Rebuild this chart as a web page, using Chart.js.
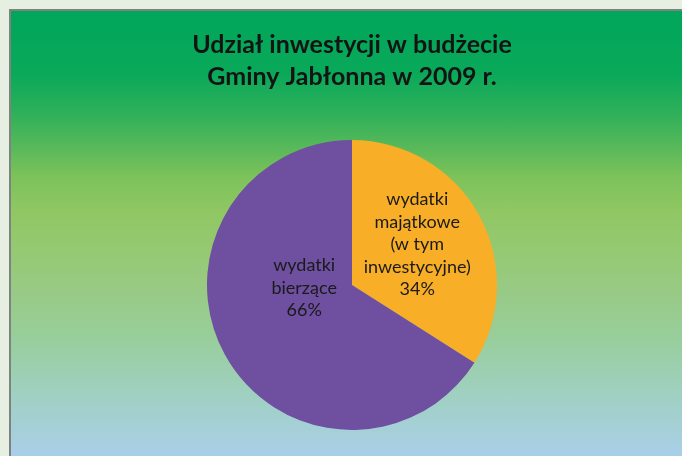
<!DOCTYPE html>
<html>
<head>
<meta charset="utf-8">
<script src="https://cdn.jsdelivr.net/npm/chart.js@4"></script>
<style>
    html, body { margin: 0; padding: 0; background: #e6efe2; }
    #frame {
        position: absolute; left: 9px; top: 9px; width: 673px; height: 447px;
        border-top: 2px solid #7f8380; border-left: 2px solid #7f8380;
        background: linear-gradient(to bottom, #00a65a 0%, #0aa95a 14%, #2fb05a 23%, #55b85a 30%,
            #7cc25a 37%, #90c763 45%, #96c973 54%, #98ca86 63%, #98ce9b 73%, #a0d0c2 86%, #aacfea 100%);
    }
    #wrap { position: absolute; left: 0; top: 0; width: 682px; height: 456px; }
</style>
</head>
<body>
<div id="frame"></div>
<div id="wrap"><canvas id="budgetChart"></canvas></div>
<script>
var sliceLabels = [['wydatki', 'majątkowe', '(w tym', 'inwestycyjne)'], ['wydatki', 'bierzące']];
var sliceValues = [34, 66];
var sliceColors = ['#f8ae27', '#6f4f9f'];
var chartTitle = ['Udział inwestycji w budżecie', 'Gminy Jabłonna w 2009 r.'];

// labels drawn inside each slice, like the excel data labels
var insideLabels = {
    id: 'insideLabels',
    afterDatasetsDraw: function (chart, args, opts) {
        var ctx = chart.ctx;
        var meta = chart.getDatasetMeta(0);
        var data = chart.data.datasets[0].data;
        ctx.save();
        ctx.fillStyle = '#1a1a1a';
        ctx.font = '18px Lato, "DejaVu Sans", sans-serif';
        ctx.textAlign = 'center';
        ctx.textBaseline = 'middle';
        meta.data.forEach(function (arc, i) {
            var p = arc.getProps(['x', 'y', 'outerRadius']);
            var off = opts.offsets[i];
            var lines = chart.data.labels[i].concat([data[i] + '%']);
            var cx = p.x + off[0] * p.outerRadius;
            var cy = p.y + off[1] * p.outerRadius;
            var lh = 22.5;
            var y0 = cy - (lines.length - 1) * lh / 2;
            lines.forEach(function (t, k) {
                ctx.fillText(t, cx, y0 + k * lh);
            });
        });
        ctx.restore();
    }
};

document.addEventListener("DOMContentLoaded", function () {
    var ctx = document.getElementById('budgetChart').getContext('2d');
    new Chart(ctx, {
        type: 'pie',
        data: {
            labels: sliceLabels,
            datasets: [{
                data: sliceValues,
                backgroundColor: sliceColors,
                borderWidth: 0
            }]
        },
        options: {
            responsive: true,
            maintainAspectRatio: false,
            animation: false,
            events: [],
            layout: { padding: { left: 22, right: 0, top: 0, bottom: 26 } },
            plugins: {
                legend: { display: false },
                tooltip: { enabled: false },
                title: {
                    display: true,
                    text: chartTitle,
                    color: '#141414',
                    font: { family: 'Lato, "DejaVu Sans", sans-serif', size: 25, weight: 'bold', lineHeight: 1.28 },
                    padding: { top: 29, bottom: 47 }
                },
                insideLabels: { offsets: [[0.45, -0.28], [-0.33, 0.02]] }
            }
        },
        plugins: [insideLabels]
    });
});
</script>
</body>
</html>
